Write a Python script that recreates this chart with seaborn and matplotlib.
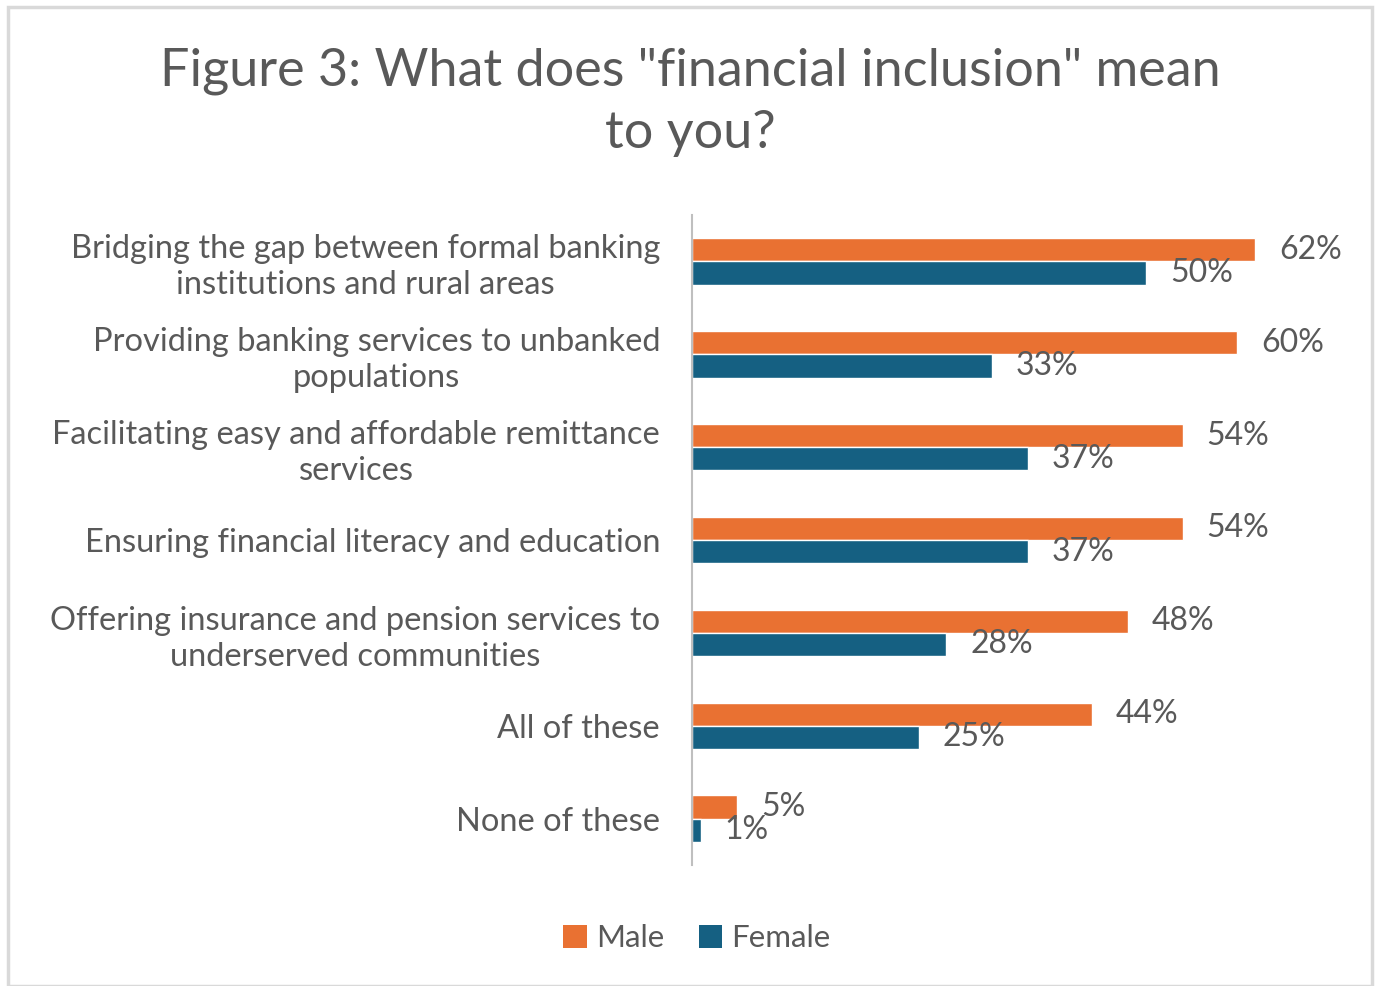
import matplotlib
matplotlib.use("Agg")
import matplotlib.pyplot as plt
import seaborn as sns
import pandas as pd
from matplotlib.patches import Rectangle, Patch

categories = [
    "Bridging the gap between formal banking\ninstitutions and rural areas",
    "Providing banking services to unbanked\npopulations",
    "Facilitating easy and affordable remittance\nservices",
    "Ensuring financial literacy and education",
    "Offering insurance and pension services to\nunderserved communities",
    "All of these",
    "None of these",
]
male = [62, 60, 54, 54, 48, 44, 5]
female = [50, 33, 37, 37, 28, 25, 1]
series = ["Male", "Female"]
colors = ["#E97132", "#156082"]
title = 'Figure 3: What does "financial inclusion" mean\nto you?'

df = pd.DataFrame({
    "category": categories * 2,
    "share": male + female,
    "gender": ["Male"] * len(categories) + ["Female"] * len(categories),
})

sns.set_theme(style="white")
plt.rcParams["font.family"] = ["Lato", "DejaVu Sans"]
text_color = "#595959"

W, H = 1378, 986
fig = plt.figure(figsize=(W / 100, H / 100), dpi=100)
ax = fig.add_axes([692 / W, 1 - 865 / H, 636 / W, 650 / H])

sns.barplot(data=df, y="category", x="share", hue="gender", hue_order=series,
            palette=colors, orient="h", width=0.5, saturation=1,
            order=categories, ax=ax, legend=False)

ax.set_xlim(0, 70)
ax.set_ylim(len(categories) - 0.5, -0.5)
ax.set_xlabel("")
ax.set_ylabel("")
ax.set_xticks([])
for s in ["top", "right", "bottom"]:
    ax.spines[s].set_visible(False)
ax.spines["left"].set_color("#BFBFBF")
ax.spines["left"].set_linewidth(1.5)
ax.tick_params(axis="y", length=0, pad=23)
ax.set_yticks(range(len(categories)))
ax.set_yticklabels(categories, fontsize=23.5, color=text_color,
                   multialignment="center", linespacing=1.25)

for cont in ax.containers:
    ax.bar_label(cont, labels=[f"{v:.0f}%" for v in cont.datavalues],
                 padding=17, fontsize=23, color=text_color)

fig.text(690 / W, 1 - 102 / H, title, ha="center", va="center",
         fontsize=37.5, color=text_color, linespacing=1.4)

handles = [Patch(facecolor=c, edgecolor="none") for c in colors]
fig.legend(handles, series, loc="center", bbox_to_anchor=(697 / W, 1 - 938 / H),
           ncol=2, frameon=False, fontsize=22.5, labelcolor=text_color,
           handlelength=0.75, handleheight=0.75, handletextpad=0.3,
           columnspacing=1.1)

fig.patches.append(Rectangle((8 / W, 0.0), 1364 / W, 1 - 7 / H,
                             transform=fig.transFigure, fill=False,
                             edgecolor="#D9D9D9", linewidth=2.5))

fig.savefig("out.png", dpi=100, facecolor="white")
